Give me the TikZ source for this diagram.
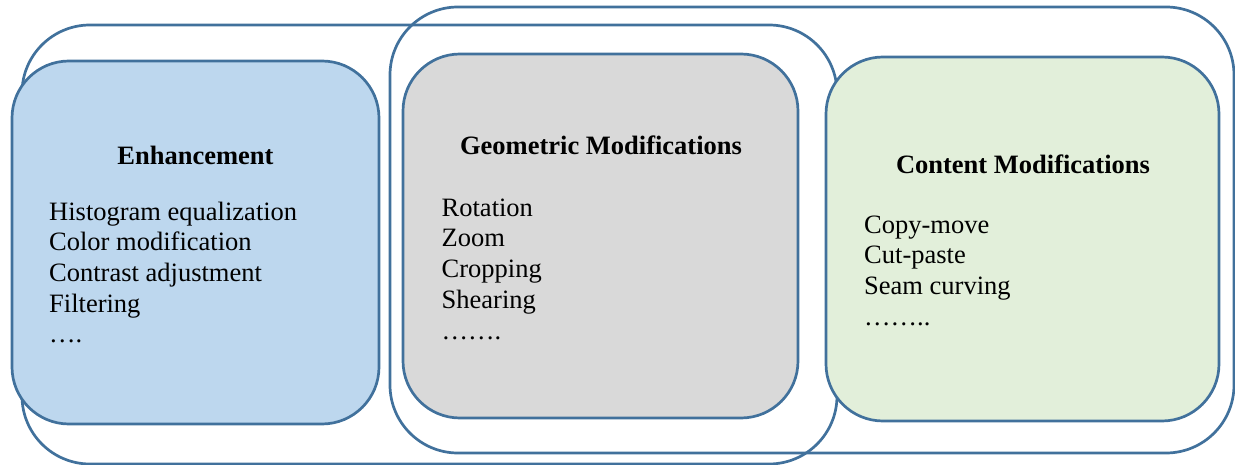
\documentclass[tikz,border=0pt]{standalone}
\usepackage{fontspec}
\setmainfont{Liberation Serif}
\usetikzlibrary{positioning}

\definecolor{edgeblue}{HTML}{41719C}
\definecolor{enhfill}{HTML}{BDD7EE}
\definecolor{geofill}{HTML}{D9D9D9}
\definecolor{confill}{HTML}{E2EFDA}

\begin{document}
\begin{tikzpicture}
[x=1pt, y=-1pt,
    every node/.style={font=\fontsize{26.5}{30.7}\selectfont},
    group/.style={draw=edgeblue, line width=2.7pt, rectangle,
        rounded corners=68pt},
    box/.style={draw=edgeblue, line width=2.7pt, rectangle,
        rounded corners=57pt, minimum width=393pt, minimum height=364pt},
    title/.style={font=\fontsize{26.5}{30.7}\selectfont\bfseries, anchor=base},
    items/.style={align=left, anchor=north west, inner sep=0pt},
    ]
    \useasboundingbox (0,0) rectangle (1235,465);

    % the two outer groups (outline only)
    \node[group, minimum width=815pt, minimum height=439pt] (pairA) at (429.5,244.5) {};
    \node[group, minimum width=844pt, minimum height=446pt] (pairB) at (812,230) {};

    % the three boxes
    \node[box, fill=enhfill, minimum width=367pt, minimum height=363pt] (enh) at (195.5,242.5) {};
    \node[box, fill=geofill, minimum width=395pt] (geo) at (600.5,236) {};
    \node[box, fill=confill] (con) at (1022.5,239) {};

    % titles
    \node[title] (enhtitle) at (195.5,165) {Enhancement};
    \node[title] (geotitle) at (601,155) {Geometric Modifications};
    \node[title] (contitle) at (1023,174) {Content Modifications};

    % lists
    \node[items] (enhitems) at (49,201.5) {Histogram equalization\\ Color modification\\
        Contrast adjustment\\ Filtering\\ ….};
    \node[items] (geoitems) at (441.5,198.5) {Rotation\\ Zoom\\ Cropping\\ Shearing\\ …….};
    \node[items] (conitems) at (864,215.5) {Copy-move\\ Cut-paste\\ Seam curving\\ ……..};

\end{tikzpicture}
\end{document}
